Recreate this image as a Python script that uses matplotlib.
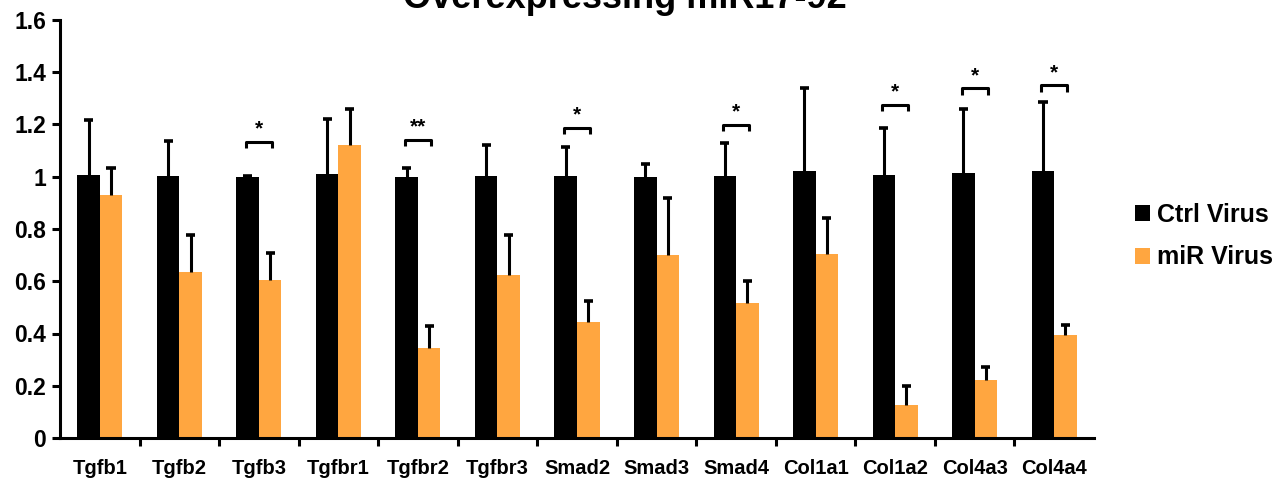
import numpy as np
from matplotlib import pyplot as plt

plt.rcParams['font.family'] = ['Liberation Sans', 'DejaVu Sans']
plt.rcParams['font.weight'] = 'bold'

genes = ['Tgfb1', 'Tgfb2', 'Tgfb3', 'Tgfbr1', 'Tgfbr2', 'Tgfbr3', 'Smad2',
         'Smad3', 'Smad4', 'Col1a1', 'Col1a2', 'Col4a3', 'Col4a4']
ctrl = [1.007, 1.002, 0.999, 1.010, 0.999, 1.003, 1.003, 0.998, 1.003, 1.022, 1.007, 1.014, 1.022]
ctrl_err = [0.210, 0.134, 0.005, 0.210, 0.035, 0.117, 0.111, 0.051, 0.125, 0.317, 0.181, 0.246, 0.264]
mir = [0.930, 0.635, 0.605, 1.120, 0.344, 0.624, 0.444, 0.700, 0.517, 0.704, 0.126, 0.222, 0.393]
mir_err = [0.105, 0.142, 0.104, 0.139, 0.086, 0.152, 0.080, 0.218, 0.085, 0.138, 0.074, 0.051, 0.038]

# significance brackets: gene index, bracket height, label
sig_idx = [2, 4, 6, 8, 10, 11, 12]
sig_y = [1.134, 1.142, 1.188, 1.200, 1.275, 1.338, 1.351]
sig_txt = ['*', '**', '*', '*', '*', '*', '*']

orange = '#FFA640'
x = np.arange(len(genes))
w = 0.283
cw = 0.057  # half width of error bar caps

fig = plt.figure(figsize=(12.88, 4.8), dpi=100)
ax = fig.add_axes([60/1288, 1-438/480, 1034/1288, 418/480])

for off, vals, errs, col, lab in [(-w/2, ctrl, ctrl_err, 'black', 'Ctrl Virus'),
                                  (w/2, mir, mir_err, orange, 'miR Virus')]:
    xc = x + off
    v = np.array(vals)
    e = np.array(errs)
    ax.bar(xc, v, w, color=col, label=lab, zorder=2)
    # upper error bars only, no cap at the bar top
    ax.vlines(xc, v, v + e, color='black', lw=2.2, zorder=3)
    ax.hlines(v + e, xc - cw, xc + cw, color='black', lw=2.6, zorder=3)

# brackets with stars
for i, yb, t in zip(sig_idx, sig_y, sig_txt):
    ax.plot([i - 0.165, i - 0.165, i + 0.165, i + 0.165],
            [yb - 0.025, yb, yb, yb - 0.025], color='black', lw=2.2,
            solid_capstyle='butt', clip_on=False)
    ax.text(i, yb + 0.012, t, ha='center', va='bottom', fontsize=15)

ax.set_xlim(-0.5, len(genes) - 0.5)
ax.set_ylim(0, 1.6)
ax.set_yticks(np.arange(0, 1.61, 0.2))
ax.set_yticklabels(['0', '0.2', '0.4', '0.6', '0.8', '1', '1.2', '1.4', '1.6'], fontsize=16.5)
ax.set_xticks(x)
ax.set_xticklabels(genes, fontsize=14.5)
ax.set_xticks(np.arange(0.5, len(genes) - 0.5, 1), minor=True)
ax.tick_params(axis='x', which='major', length=0, pad=15)
ax.tick_params(axis='x', which='minor', length=6, width=2.2, direction='out')
ax.tick_params(axis='y', length=6, width=2.2, direction='out', pad=4)

for s in ['top', 'right']:
    ax.spines[s].set_visible(False)
for s in ['left', 'bottom']:
    ax.spines[s].set_linewidth(2.2)

ax.legend(loc='center left', bbox_to_anchor=(1122/1288, 1-236/480),
          bbox_transform=fig.transFigure, frameon=False, fontsize=18,
          handlelength=0.6, handleheight=0.6, handletextpad=0.3,
          labelspacing=0.75, borderpad=0)

fig.text(625/1288, 1-8/480, 'Overexpressing miR17-92', ha='center',
         va='baseline', fontsize=26, fontweight='bold')

plt.savefig('out.png', dpi=100)
